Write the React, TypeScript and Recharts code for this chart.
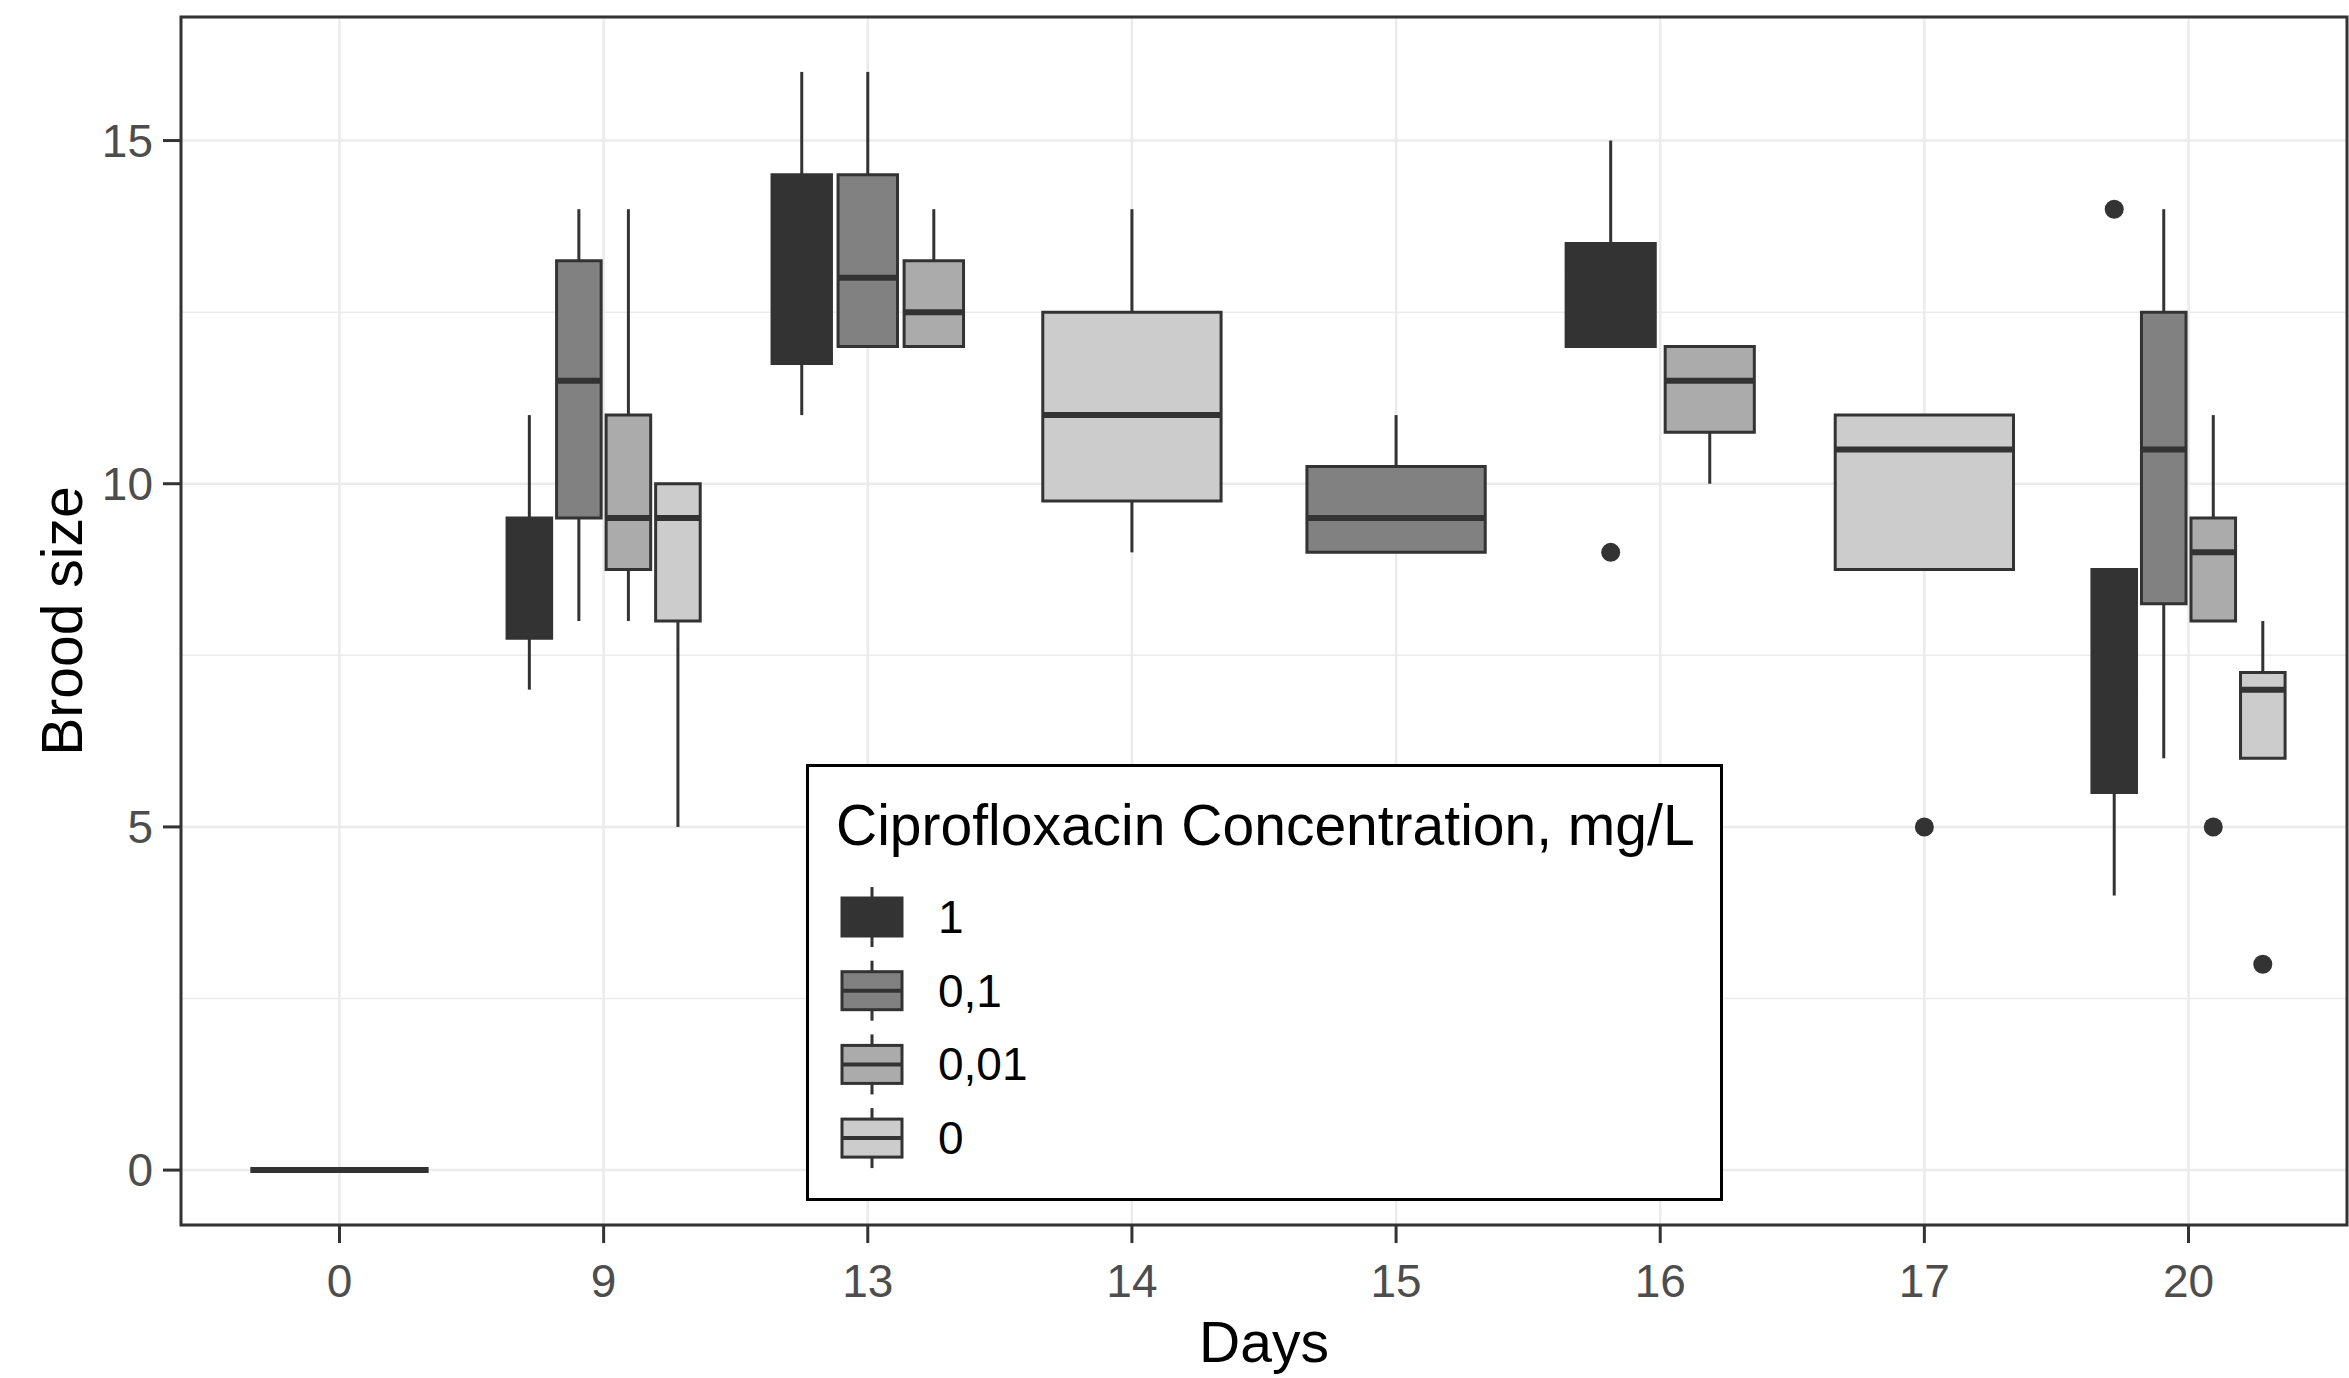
import React from "react";
import {
  ComposedChart,
  XAxis,
  YAxis,
  CartesianGrid,
  ReferenceArea,
  ReferenceLine,
  Scatter,
  Legend,
} from "recharts";

const DAYS = ["0", "9", "13", "14", "15", "16", "17", "20"];
const GROUPS = ["1", "0,1", "0,01", "0"];
const Y_TICKS = [0, 5, 10, 15];
const Y_MINOR = [2.5, 7.5, 12.5];

type Box = { day: string; lo: number; q1: number; med: number; q3: number; hi: number };
type Out = { day: string; y: number };

// box stats per concentration (whisker low, q1, median, q3, whisker high)
const conc1: Box[] = [
  { day: "9", lo: 7, q1: 7.75, med: 8.5, q3: 9.5, hi: 11 },
  { day: "13", lo: 11, q1: 11.75, med: 13, q3: 14.5, hi: 16 },
  { day: "16", lo: 12, q1: 12, med: 13, q3: 13.5, hi: 15 },
  { day: "20", lo: 4, q1: 5.5, med: 7, q3: 8.75, hi: 8.75 },
];
const conc01: Box[] = [
  { day: "9", lo: 8, q1: 9.5, med: 11.5, q3: 13.25, hi: 14 },
  { day: "13", lo: 12, q1: 12, med: 13, q3: 14.5, hi: 16 },
  { day: "15", lo: 9, q1: 9, med: 9.5, q3: 10.25, hi: 11 },
  { day: "20", lo: 6, q1: 8.25, med: 10.5, q3: 12.5, hi: 14 },
];
const conc001: Box[] = [
  { day: "9", lo: 8, q1: 8.75, med: 9.5, q3: 11, hi: 14 },
  { day: "13", lo: 12, q1: 12, med: 12.5, q3: 13.25, hi: 14 },
  { day: "16", lo: 10, q1: 10.75, med: 11.5, q3: 12, hi: 12 },
  { day: "20", lo: 8, q1: 8, med: 9, q3: 9.5, hi: 11 },
];
const conc0: Box[] = [
  { day: "0", lo: 0, q1: 0, med: 0, q3: 0, hi: 0 },
  { day: "9", lo: 5, q1: 8, med: 9.5, q3: 10, hi: 10 },
  { day: "14", lo: 9, q1: 9.75, med: 11, q3: 12.5, hi: 14 },
  { day: "17", lo: 8.75, q1: 8.75, med: 10.5, q3: 11, hi: 11 },
  { day: "20", lo: 6, q1: 6, med: 7, q3: 7.25, hi: 8 },
];

const out1: Out[] = [
  { day: "16", y: 9 },
  { day: "20", y: 14 },
];
const out01: Out[] = [];
const out001: Out[] = [{ day: "20", y: 5 }];
const out0: Out[] = [
  { day: "17", y: 5 },
  { day: "20", y: 3 },
];

const SERIES = [conc1, conc01, conc001, conc0];
const OUTLIERS = [out1, out01, out001, out0];
const FILLS = ["#333333", "#818181", "#ABABAB", "#CCCCCC"];
const LINE = "#333333";
const FONT = '"Liberation Sans", Arial, sans-serif';

// ggplot-like dodge2: boxes share 0.75 of a category, each shrunk by 10%
function place(gi: number, day: string) {
  const present = SERIES.map((s, i) => (s.some((b) => b.day === day) ? i : -1)).filter((i) => i >= 0);
  const slot = 0.75 / present.length;
  const k = present.indexOf(gi);
  const c = DAYS.indexOf(day) - 0.375 + slot * (k + 0.5);
  return { c, half: (slot * 0.9) / 2 };
}

const boxes = SERIES.flatMap((s, gi) =>
  s.map((b) => ({ ...b, gi, ...place(gi, b.day) }))
);

const outlierPts = OUTLIERS.flatMap((o, gi) =>
  o.map((p) => ({ x: place(gi, p.day).c, y: p.y }))
);

function LegendBox() {
  const rowY = (i: number) => 153 + i * 73.7;
  return (
    <svg width={917} height={437} style={{ display: "block" }}>
      <rect x={1.5} y={1.5} width={914} height={434} fill="#fff" stroke="#000" strokeWidth={3} />
      <text x={30} y={81} fontSize={57} fontFamily={FONT} fill="#000">
        Ciprofloxacin Concentration, mg/L
      </text>
      {GROUPS.map((g, i) => {
        const cy = rowY(i);
        return (
          <g key={g}>
            <line x1={66} x2={66} y1={cy - 30} y2={cy + 30} stroke={LINE} strokeWidth={3} />
            <rect x={36} y={cy - 19} width={60} height={38} fill={FILLS[i]} stroke={LINE} strokeWidth={3} />
            <line x1={36} x2={96} y1={cy} y2={cy} stroke={LINE} strokeWidth={4} />
            <text x={132} y={cy + 16} fontSize={46} fontFamily={FONT} fill="#000">
              {g}
            </text>
          </g>
        );
      })}
    </svg>
  );
}

export default function App() {
  return (
    <div style={{ position: "absolute", left: 0, top: 0, background: "#fff" }}>
      <ComposedChart width={2349} height={1378} margin={{ top: 17, right: 2, bottom: 0, left: 0 }}>
        <CartesianGrid stroke="#EBEBEB" strokeWidth={1.5} horizontalValues={Y_MINOR} vertical={false} />
        <CartesianGrid stroke="#EBEBEB" strokeWidth={2.5} />
        <XAxis
          type="number"
          dataKey="x"
          domain={[-0.6, 7.6]}
          ticks={DAYS.map((_, i) => i)}
          tickFormatter={(v: number) => DAYS[v]}
          height={153}
          axisLine={false}
          tickSize={18}
          tickMargin={21}
          tickLine={{ stroke: LINE, strokeWidth: 3 }}
          tick={{ fill: "#4D4D4D", fontSize: 46, fontFamily: FONT }}
          label={{ value: "Days", position: "insideBottom", offset: 16, fill: "#000", fontSize: 57, fontFamily: FONT }}
        />
        <YAxis
          type="number"
          dataKey="y"
          domain={[-0.8, 16.8]}
          ticks={Y_TICKS}
          width={181}
          axisLine={false}
          tickSize={18}
          tickMargin={10}
          tickLine={{ stroke: LINE, strokeWidth: 3 }}
          tick={{ fill: "#4D4D4D", fontSize: 46, fontFamily: FONT }}
          label={{
            content: () => (
              <text x={82} y={621} transform="rotate(-90 82 621)" textAnchor="middle" fontSize={57} fontFamily={FONT} fill="#000">
                Brood size
              </text>
            ),
          }}
        />
        {boxes.map((b, i) => (
          <ReferenceArea
            key={`box${i}`}
            x1={b.c - b.half}
            x2={b.c + b.half}
            y1={b.q1}
            y2={b.q3}
            fill={FILLS[b.gi]}
            fillOpacity={1}
            stroke={LINE}
            strokeWidth={3}
            ifOverflow="visible"
          />
        ))}
        {boxes
          .filter((b) => b.hi > b.q3)
          .map((b, i) => (
            <ReferenceLine
              key={`wu${i}`}
              segment={[{ x: b.c, y: b.q3 }, { x: b.c, y: b.hi }]}
              stroke={LINE}
              strokeWidth={3}
              ifOverflow="visible"
            />
          ))}
        {boxes
          .filter((b) => b.lo < b.q1)
          .map((b, i) => (
            <ReferenceLine
              key={`wl${i}`}
              segment={[{ x: b.c, y: b.lo }, { x: b.c, y: b.q1 }]}
              stroke={LINE}
              strokeWidth={3}
              ifOverflow="visible"
            />
          ))}
        {boxes.map((b, i) => (
          <ReferenceLine
            key={`med${i}`}
            segment={[{ x: b.c - b.half, y: b.med }, { x: b.c + b.half, y: b.med }]}
            stroke={LINE}
            strokeWidth={6}
            ifOverflow="visible"
          />
        ))}
        <ReferenceArea
          x1={-0.6}
          x2={7.6}
          y1={-0.8}
          y2={16.8}
          fill="none"
          stroke={LINE}
          strokeWidth={3}
          ifOverflow="visible"
        />
        <Scatter
          data={outlierPts}
          isAnimationActive={false}
          shape={(p: any) => <circle cx={p.cx} cy={p.cy} r={9.5} fill={LINE} />}
        />
        <Legend
          verticalAlign="middle"
          align="center"
          layout="horizontal"
          content={() => <LegendBox />}
          wrapperStyle={{ left: 806, top: 764, width: 917, height: 437 }}
        />
      </ComposedChart>
    </div>
  );
}
